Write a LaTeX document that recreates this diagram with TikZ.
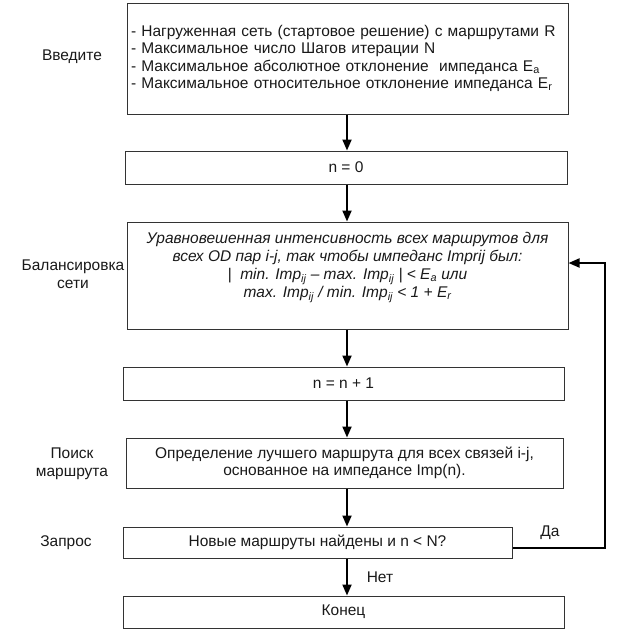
\documentclass[tikz,border=0pt]{standalone}
\usepackage{fontspec}
\setmainfont{Liberation Sans}
\usetikzlibrary{arrows.meta,calc}
\begin{document}
\begin{tikzpicture}[x=1pt,y=-1pt,
  every node/.style={font=\fontsize{15.5}{17.5}\selectfont, text=black!90},
  box/.style={draw=black!80, line width=1pt, inner sep=0pt},
  lbl/.style={align=center},
  arr/.style={line width=2pt, -{Triangle[length=11pt,width=9pt]}}]
\useasboundingbox (0,0) rectangle (624,632);
% boxes
\node[box, minimum width=441, minimum height=111, text width=433, inner xsep=4, align=left] (b1) at (347.5,58.5)
 {- Нагруженная сеть (стартовое решение) с маршрутами R\\
  - Максимальное число Шагов итерации N\\
  - Максимальное абсолютное отклонение \ импеданса E\textsubscript{a}\\
  - Максимальное относительное отклонение импеданса E\textsubscript{r}};
\node[box, minimum width=442, minimum height=33] (b2) at (346,167.5) {n = 0};
\node[box, minimum width=441, minimum height=107] (b3) at (347.5,275.5) {};
\node[lbl, font=\fontsize{15.5}{18}\selectfont\itshape] (b3t) at ($(b3.center)+(0,-8)$)
 {Уравновешенная интенсивность всех маршрутов для\\
  всех OD пар i-j, так чтобы импеданс Imprij был:\\
  | \ min. Imp\textsubscript{ij} – max. Imp\textsubscript{ij} | < E\textsubscript{a} или\\
  max. Imp\textsubscript{ij} / min. Imp\textsubscript{ij} < 1 + E\textsubscript{r}};
\node[box, minimum width=441, minimum height=33] (b4) at (343.5,383.5) {n = n + 1};
\node[box, minimum width=437, minimum height=50, align=center] (b5) at (344.5,463)
 {Определение лучшего маршрута для всех связей i-j,\\основанное на импедансе Imp(n).};
\node[box, minimum width=389, minimum height=31] (b6) at (317.5,542.5) {Новые маршруты найдены и n < N?};
\node[box, minimum width=441, minimum height=32] (b7) at (343.5,612) {Конец};
% left labels
\node[lbl] (l1) at (72,57) {Введите};
\node[lbl] (l2) at (73,274) {Балансировка\\сети};
\node[lbl] (l3) at (72,464) {Поиск\\маршрута};
\node[lbl] (l4) at (66,543) {Запрос};
% arrows
\coordinate (col) at (347,0);
\draw[arr] (b1.south -| col) -- (b2.north -| col);
\draw[arr] (b2.south -| col) -- (b3.north -| col);
\draw[arr] (b3.south -| col) -- (b4.north -| col);
\draw[arr] (b4.south -| col) -- (b5.north -| col);
\draw[arr] (b5.south -| col) -- (b6.north -| col);
\draw[arr] (b6.south -| col) -- (b7.north -| col);
\node[lbl] (no) at (380,577) {Нет};
% feedback
\coordinate (fbs) at ($(b6.east)+(0,5.5)$);
\coordinate (fbe) at ($(b3.east)+(0,-12.5)$);
\coordinate (fbx) at (605,0);
\draw[line width=2pt, -{Triangle[length=11pt,width=9pt]}] (fbs) -- (fbs -| fbx) -- (fbe -| fbx) -- (fbe);
\node[lbl] (yes) at (550,533) {Да};
\end{tikzpicture}
\end{document}
